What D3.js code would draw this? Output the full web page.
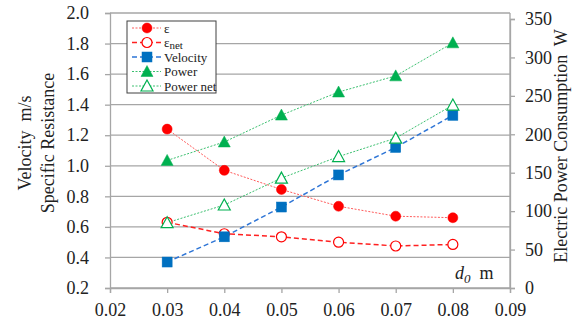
<!DOCTYPE html>
<meta charset="utf-8">
<script src="https://d3js.org/d3.v7.min.js"></script>
<style>
  body { margin: 0; background: #fff; }
  text { font-family: "Liberation Serif", "Times New Roman", serif; fill: #222; }
</style>
<div id="my_dataviz"></div>
<script>

    // data
    var d0 = [0.03, 0.04, 0.05, 0.06, 0.07, 0.08];
    var epsilon = [1.24, 0.97, 0.845, 0.735, 0.67, 0.66];
    var epsilonNet = [0.63, 0.555, 0.535, 0.50, 0.475, 0.485];
    var velocity = [0.37, 0.535, 0.73, 0.94, 1.12, 1.33];
    var power = [166, 190, 225, 255, 276, 319];
    var powerNet = [85, 108, 143, 171, 195, 238];

    var xTicks = [0.02, 0.03, 0.04, 0.05, 0.06, 0.07, 0.08, 0.09];
    var leftTicks = [0.2, 0.4, 0.6, 0.8, 1.0, 1.2, 1.4, 1.6, 1.8, 2.0];
    var rightTicks = [0, 50, 100, 150, 200, 250, 300, 350];

    var W = 587, H = 331;
    var plotL = 110, plotR = 510, plotT = 13, plotB = 288;
    var serif = "'Liberation Serif', 'Times New Roman', serif";

    var svg = d3.select("#my_dataviz")
        .append("svg")
        .attr("width", W)
        .attr("height", H)
        .style("font-family", serif);

    var x = d3.scaleLinear().domain([0.02, 0.09]).range([plotL, plotR]);
    var y = d3.scaleLinear().domain([0.2, 2.0]).range([plotB, plotT]);
    var y2 = d3.scaleLinear().domain([0, 350]).range([plotB, 19]);

    // gridlines
    svg.append("g")
        .selectAll("line")
        .data(leftTicks)
        .enter()
        .append("line")
        .attr("x1", plotL).attr("x2", plotR)
        .attr("y1", function(d) { return y(d); })
        .attr("y2", function(d) { return y(d); })
        .attr("stroke", "#a6a6a6")
        .attr("stroke-width", 1.3);

    // axes
    var axisColor = "#a6a6a6";
    function styleAxis(g) {
        g.select(".domain").attr("stroke", axisColor).attr("stroke-width", 1.3);
        g.selectAll(".tick line").attr("stroke", axisColor).attr("stroke-width", 1.3);
        g.selectAll(".tick text")
            .style("font-size", "18px")
            .style("font-family", serif)
            .attr("fill", "#222");
    }

    svg.append("g")
        .attr("transform", "translate(0," + plotB + ")")
        .call(d3.axisBottom(x).tickValues(xTicks).tickFormat(d3.format(".2f")).tickSizeOuter(0).tickSize(5).tickPadding(10))
        .call(styleAxis);

    svg.append("g")
        .attr("transform", "translate(" + plotL + ",0)")
        .call(d3.axisLeft(y).tickValues(leftTicks).tickFormat(d3.format(".1f")).tickSizeOuter(0).tickSize(5).tickPadding(16))
        .call(styleAxis);

    svg.append("g")
        .attr("transform", "translate(" + plotR + ",0)")
        .call(d3.axisRight(y2).tickValues(rightTicks).tickSizeOuter(0).tickSize(5).tickPadding(10))
        .call(styleAxis);

    // right axis line goes up to the top of the plot
    svg.append("line")
        .attr("x1", plotR).attr("x2", plotR)
        .attr("y1", plotT).attr("y2", plotB)
        .attr("stroke", axisColor).attr("stroke-width", 1.3);

    // axis titles
    svg.append("text")
        .attr("transform", "translate(31,143) rotate(-90)")
        .attr("text-anchor", "middle")
        .style("font-size", "18px")
        .attr("xml:space", "preserve")
        .text("Velocity  m/s");
    svg.append("text")
        .attr("transform", "translate(54,143) rotate(-90)")
        .attr("text-anchor", "middle")
        .style("font-size", "18px")
        .text("Specific Resistance");
    svg.append("text")
        .attr("transform", "translate(567,146) rotate(-90)")
        .attr("text-anchor", "middle")
        .style("font-size", "18px")
        .attr("xml:space", "preserve")
        .text("Electric Power Consumption  W");

    var dl = svg.append("text")
        .attr("x", 455).attr("y", 279)
        .style("font-size", "18px")
        .attr("xml:space", "preserve");
    dl.append("tspan").style("font-style", "italic").text("d");
    dl.append("tspan").style("font-style", "italic").style("font-size", "13px").attr("dy", 4).text("0");
    dl.append("tspan").attr("dy", -4).text("  m");

    // series
    var series = [
        {name: "ε", values: epsilon, axis: y, color: "#ff0000", line: "#ff5a5a", dash: "2,1.5", lw: 1, shape: "circle", fill: true},
        {name: "εnet", values: epsilonNet, axis: y, color: "#ff0000", line: "#ff2020", dash: "5,3", lw: 1.5, shape: "circle", fill: false},
        {name: "Velocity", values: velocity, axis: y, color: "#0070c0", line: "#2e75d6", dash: "5,3", lw: 1.5, shape: "square", fill: true},
        {name: "Power", values: power, axis: y2, color: "#00b050", line: "#3cc070", dash: "2,1.5", lw: 1, shape: "triangle", fill: true},
        {name: "Power net", values: powerNet, axis: y2, color: "#00b050", line: "#3cc070", dash: "2,1.5", lw: 1, shape: "triangle", fill: false}
    ];

    function marker(g, s, cx, cy) {
        var m;
        if (s.shape === "circle") {
            m = g.append("circle").attr("cx", cx).attr("cy", cy).attr("r", 5);
        } else if (s.shape === "square") {
            m = g.append("rect").attr("x", cx - 5).attr("y", cy - 5).attr("width", 10).attr("height", 10);
        } else {
            m = g.append("path").attr("d", "M" + cx + "," + (cy - 6) + "L" + (cx + 6) + "," + (cy + 5) + "L" + (cx - 6) + "," + (cy + 5) + "Z");
        }
        m.attr("fill", s.fill ? s.color : "#fff")
            .attr("stroke", s.color)
            .attr("stroke-width", s.fill ? 0.5 : 1.2);
    }

    series.forEach(function(s) {
        var line = d3.line()
            .x(function(d, i) { return x(d0[i]); })
            .y(function(d) { return s.axis(d); });
        svg.append("path")
            .datum(s.values)
            .attr("d", line)
            .attr("fill", "none")
            .attr("stroke", s.line)
            .attr("stroke-width", s.lw)
            .attr("stroke-dasharray", s.dash);
    });

    series.forEach(function(s) {
        var g = svg.append("g");
        s.values.forEach(function(v, i) {
            marker(g, s, x(d0[i]), s.axis(v));
        });
    });

    // legend
    var lg = svg.append("g");
    lg.append("rect")
        .attr("x", 127).attr("y", 21)
        .attr("width", 89).attr("height", 72)
        .attr("fill", "#fff")
        .attr("stroke", "#404040")
        .attr("stroke-width", 1);

    series.forEach(function(s, i) {
        var ly = 28 + i * 14.5;
        lg.append("line")
            .attr("x1", 132).attr("x2", 161)
            .attr("y1", ly).attr("y2", ly)
            .attr("stroke", s.line)
            .attr("stroke-width", s.lw)
            .attr("stroke-dasharray", s.dash);
        marker(lg, s, 147, ly);
        var t = lg.append("text")
            .attr("x", 164).attr("y", ly + 4.5)
            .style("font-size", "13px");
        if (s.name === "εnet") {
            t.append("tspan").text("ε");
            t.append("tspan").attr("dy", 2).style("font-size", "11px").text("net");
        } else {
            t.text(s.name);
        }
    });

</script>
